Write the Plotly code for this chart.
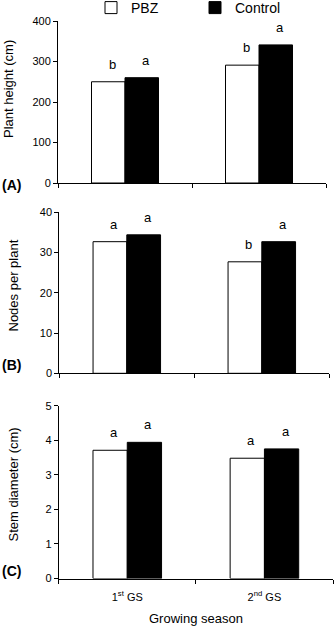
import plotly.graph_objects as go

seasons = ["1<sup>st</sup> GS", "2<sup>nd</sup> GS"]
series_names = ["PBZ", "Control"]

height_pbz = [250, 291]
height_ctrl = [260, 341]
height_let_pbz = ["b", "b"]
height_let_ctrl = ["a", "a"]

nodes_pbz = [32.7, 27.7]
nodes_ctrl = [34.4, 32.7]
nodes_let_pbz = ["a", "b"]
nodes_let_ctrl = ["a", "a"]

stem_pbz = [3.71, 3.48]
stem_ctrl = [3.94, 3.75]
stem_let_pbz = ["a", "a"]
stem_let_ctrl = ["a", "a"]

y_titles = ["Plant height (cm)", "Nodes per plant", "Stem diameter (cm)"]
panel_labels = ["(A)", "(B)", "(C)"]
y_ranges = [[0, 400], [0, 40], [0, 5]]
y_dticks = [100, 10, 1]

W, H = 335, 626
FONT = "Arial, Liberation Sans, sans-serif"

# pixel geometry of each panel: (x0, x1, ytop, ybottom)
panels_px = [(58, 326, 21, 183), (59.3, 329.3, 212.3, 373.3), (58.7, 333, 405.7, 578.5)]

panels = [
    (height_pbz, height_ctrl, height_let_pbz, height_let_ctrl),
    (nodes_pbz, nodes_ctrl, nodes_let_pbz, nodes_let_ctrl),
    (stem_pbz, stem_ctrl, stem_let_pbz, stem_let_ctrl),
]

fig = go.Figure()
annotations = []
layout = {}
for i, (pbz, ctrl, lp, lc) in enumerate(panels):
    n = "" if i == 0 else str(i + 1)
    xa, ya = "x" + n, "y" + n
    fig.add_trace(go.Bar(x=seasons, y=pbz, name=series_names[0], xaxis=xa, yaxis=ya,
                         marker=dict(color="white", line=dict(color="black", width=1)),
                         showlegend=(i == 0), legendgroup="pbz"))
    fig.add_trace(go.Bar(x=seasons, y=ctrl, name=series_names[1], xaxis=xa, yaxis=ya,
                         marker=dict(color="black", line=dict(color="black", width=1)),
                         showlegend=(i == 0), legendgroup="ctrl"))
    x0, x1, yt, yb = panels_px[i]
    layout["xaxis" + n] = dict(
        domain=[x0 / W, x1 / W], anchor=ya, type="category",
        showline=True, linecolor="black", linewidth=1, ticks="outside", tickson="boundaries",
        ticklen=4, tickcolor="black", showgrid=False, zeroline=False,
        showticklabels=(i == 2), tickfont=dict(size=11, color="black", family=FONT),
        ticklabelstandoff=8, fixedrange=True,
    )
    layout["yaxis" + n] = dict(
        domain=[1 - yb / H, 1 - yt / H], anchor=xa, range=y_ranges[i], dtick=y_dticks[i],
        showline=True, linecolor="black", linewidth=1, ticks="outside", ticklen=4,
        tickcolor="black", showgrid=False, zeroline=False,
        tickfont=dict(size=11, color="black", family=FONT),
    )
    for j in range(2):
        annotations.append(dict(x=j - 0.125, y=pbz[j], xref=xa, yref=ya, text=lp[j],
                                showarrow=False, yanchor="bottom", yshift=8, xshift=4,
                                font=dict(size=13, color="black", family=FONT)))
        annotations.append(dict(x=j + 0.125, y=ctrl[j], xref=xa, yref=ya, text=lc[j],
                                showarrow=False, yanchor="bottom", yshift=8, xshift=4,
                                font=dict(size=13, color="black", family=FONT)))

# y titles and panel labels
ytitle_px = [(8, 89), (12.5, 286), (12.5, 485)]
label_py = [184.5, 365, 571]
for i in range(3):
    annotations.append(dict(x=ytitle_px[i][0] / W, y=1 - ytitle_px[i][1] / H, xref="paper", yref="paper",
                            text=y_titles[i], textangle=-90, showarrow=False,
                            xanchor="center", yanchor="middle",
                            font=dict(size=13, color="black", family=FONT)))
    annotations.append(dict(x=0, y=1 - label_py[i] / H, xref="paper", yref="paper",
                            text="<b>" + panel_labels[i] + "</b>", showarrow=False,
                            xanchor="left", yanchor="middle",
                            font=dict(size=14, color="black", family=FONT)))

annotations.append(dict(x=195.8 / W, y=1 - 618 / H, xref="paper", yref="paper",
                        text="Growing season", showarrow=False, xanchor="center", yanchor="middle",
                        font=dict(size=13, color="black", family=FONT)))

fig.update_layout(
    **layout,
    annotations=annotations,
    width=W, height=H,
    margin=dict(l=0, r=0, t=0, b=0, autoexpand=False),
    barmode="group", bargap=0.5, bargroupgap=0,
    plot_bgcolor="white", paper_bgcolor="white",
    font=dict(family=FONT, color="black"),
    legend=dict(orientation="h", x=91 / W, y=1 - 8 / H, xanchor="left", yanchor="middle",
                yref="container",
                font=dict(size=14, color="black", family=FONT), entrywidth=59,
                bgcolor="rgba(0,0,0,0)", tracegroupgap=0),
)

fig.write_html("out.html", config={"displayModeBar": False})
